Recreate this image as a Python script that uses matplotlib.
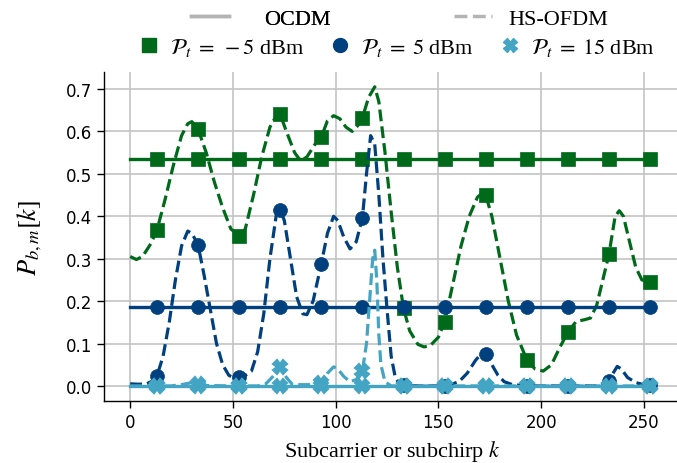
import matplotlib
matplotlib.use("Agg")
import matplotlib.pyplot as plt
from matplotlib.lines import Line2D

# ---------------- data ----------------
marker_k = [13, 33, 53, 73, 93, 113, 133, 153, 173, 193, 213, 233, 253]
ocdm_k = [0, 13, 33, 53, 73, 93, 113, 133, 153, 173, 193, 213, 233, 253, 255]

ocdm_m5 = 0.535
ocdm_5 = 0.185
ocdm_15 = 0.0

# HS-OFDM, Pt = -5 dBm
hs_m5_k = [0, 3, 6, 10, 13, 17, 21, 25, 28, 30, 33, 37, 41, 45, 49, 53, 56, 60, 64, 68,
           72, 73, 76, 80, 83, 86, 90, 93, 96, 99, 102, 105, 108, 111, 113, 116, 119, 121,
           124, 127, 130, 133, 136, 140, 143, 146, 150, 153, 157, 161, 165, 169, 172, 173,
           176, 180, 184, 188, 193, 197, 201, 205, 209, 213, 217, 221, 224, 227, 230, 233,
           236, 238, 240, 243, 246, 249, 253, 255]
hs_m5_v = [0.305, 0.298, 0.305, 0.335, 0.367, 0.44, 0.52, 0.59, 0.618, 0.623, 0.605, 0.55,
           0.48, 0.42, 0.37, 0.354, 0.37, 0.45, 0.54, 0.61, 0.645, 0.64, 0.60, 0.55, 0.53,
           0.54, 0.57, 0.587, 0.625, 0.637, 0.63, 0.61, 0.60, 0.615, 0.632, 0.68, 0.705,
           0.67, 0.55, 0.41, 0.28, 0.183, 0.13, 0.098, 0.092, 0.095, 0.115, 0.151, 0.24,
           0.33, 0.40, 0.445, 0.457, 0.45, 0.40, 0.30, 0.20, 0.12, 0.062, 0.04, 0.035, 0.05,
           0.09, 0.127, 0.152, 0.156, 0.16, 0.19, 0.25, 0.311, 0.40, 0.413, 0.40, 0.34, 0.28,
           0.25, 0.245, 0.24]
hs_m5_mark = [0.367, 0.605, 0.354, 0.64, 0.587, 0.632, 0.183, 0.151, 0.45, 0.062, 0.127,
              0.311, 0.245]

# HS-OFDM, Pt = 5 dBm
hs_5_k = [0, 4, 8, 11, 13, 16, 19, 22, 25, 28, 30, 33, 36, 39, 42, 45, 48, 51, 53, 56, 59,
          62, 65, 68, 71, 73, 75, 78, 81, 84, 86, 89, 93, 96, 99, 101, 104, 107, 110, 113,
          115, 117, 119, 121, 123, 125, 127, 129, 131, 133, 140, 150, 155, 160, 164, 168,
          171, 173, 176, 179, 182, 186, 193, 213, 226, 230, 233, 235, 237, 239, 242, 246,
          249, 253, 255]
hs_5_v = [0.005, 0.004, 0.005, 0.012, 0.023, 0.07, 0.15, 0.25, 0.33, 0.365, 0.36, 0.333,
          0.26, 0.18, 0.10, 0.05, 0.025, 0.018, 0.02, 0.025, 0.035, 0.08, 0.17, 0.30, 0.40,
          0.415, 0.39, 0.30, 0.21, 0.17, 0.168, 0.20, 0.288, 0.36, 0.40, 0.39, 0.35, 0.323,
          0.34, 0.396, 0.50, 0.59, 0.57, 0.45, 0.30, 0.18, 0.07, 0.02, 0.005, 0.002, 0.0,
          0.0, 0.002, 0.01, 0.03, 0.06, 0.077, 0.075, 0.05, 0.025, 0.01, 0.003, 0.0, 0.0,
          0.0, 0.005, 0.012, 0.03, 0.046, 0.04, 0.02, 0.008, 0.004, 0.003, 0.003]
hs_5_mark = [0.023, 0.333, 0.02, 0.415, 0.288, 0.396, 0.002, 0.0, 0.075, 0.0, 0.0, 0.012,
             0.003]

# HS-OFDM, Pt = 15 dBm
hs_15_k = [0, 20, 26, 30, 33, 37, 50, 62, 66, 70, 73, 76, 79, 88, 93, 96, 99, 101, 104, 107,
           110, 113, 115, 116.5, 118, 119, 120, 121, 122, 124, 127, 255]
hs_15_v = [0.0, 0.0, 0.004, 0.008, 0.005, 0.001, 0.0, 0.0, 0.005, 0.025, 0.045, 0.02, 0.003,
           0.003, 0.008, 0.03, 0.045, 0.04, 0.022, 0.01, 0.015, 0.035, 0.10, 0.20, 0.30,
           0.32, 0.25, 0.12, 0.05, 0.01, 0.0, 0.0]
hs_15_mark = [0.0, 0.005, 0.0, 0.045, 0.008, 0.035, 0.0, 0.0, 0.0, 0.0, 0.0, 0.0, 0.0]

legend_power = [r"$\mathcal{P}_t\;=\;-5$ dBm", r"$\mathcal{P}_t\;=\;5$ dBm",
                r"$\mathcal{P}_t\;=\;15$ dBm"]
legend_scheme = ["OCDM", "HS-OFDM"]
xticks = [0, 50, 100, 150, 200, 250]
yticks = [0.0, 0.1, 0.2, 0.3, 0.4, 0.5, 0.6, 0.7]

# ---------------- style ----------------
plt.rcParams["mathtext.fontset"] = "stix"
plt.rcParams["font.family"] = ["DejaVu Sans"]
SERIF = ["Liberation Serif", "DejaVu Serif"]

colors = ["#006a1b", "#00407f", "#44a4c4"]
markers = ["s", "o", "X"]

fig = plt.figure(figsize=(6.77, 4.64), dpi=100)
W, H = 677, 464
ax = fig.add_axes([104 / W, (H - 402) / H, 576.4 / W, 329 / H])

series = [
    (ocdm_m5, hs_m5_k, hs_m5_v, hs_m5_mark),
    (ocdm_5, hs_5_k, hs_5_v, hs_5_mark),
    (ocdm_15, hs_15_k, hs_15_v, hs_15_mark),
]
for i, (oc, hk, hv, hm) in enumerate(series):
    c = colors[i]
    m = markers[i]
    mew = 1.5 if m == "X" else 0.5
    ax.plot(hk, hv, ls="--", lw=2.3, color=c, zorder=3 + i)
    ax.plot(marker_k, hm, ls="none", marker=m, ms=10, color=c, mec=c, mew=mew,
            zorder=3 + i)
    ax.plot(ocdm_k, [oc] * len(ocdm_k), ls="-", lw=2.4, color=c, zorder=3 + i)
    ax.plot(marker_k, [oc] * len(marker_k), ls="none", marker=m, ms=10, color=c,
            mec=c, mew=mew, zorder=3 + i)

ax.set_xlim(-12.75, 267.75)
ax.set_ylim(-0.0355, 0.74)
ax.set_xticks(xticks)
ax.set_yticks(yticks)
ax.set_yticklabels([f"{v:.1f}" for v in yticks])
ax.tick_params(labelsize=12, length=5, width=1)
ax.grid(True, color="#c4c4c4", lw=1.2)
ax.set_axisbelow(True)
for s in ["top", "right"]:
    ax.spines[s].set_visible(False)
for s in ["left", "bottom"]:
    ax.spines[s].set_linewidth(1.0)

ax.set_xlabel(r"Subcarrier or subchirp $k$", fontsize=16, family=SERIF, labelpad=5)
ax.set_ylabel(r"$P_{b,m}[k]$", fontsize=19, labelpad=16)

# legends
gray = "#b4b4b4"
leg_a = fig.legend([Line2D([], [], color=gray, lw=2.5, ls="-")], legend_scheme[:1],
                   loc="center left", bbox_to_anchor=(191 / W, 1 - 19.5 / H),
                   frameon=False, prop={"family": SERIF, "size": 16},
                   handlelength=1.7, handletextpad=1.6, borderpad=0, borderaxespad=0)
leg_b = fig.legend([Line2D([], [], color=gray, lw=2.5, ls="--")], legend_scheme[1:],
                   loc="center left", bbox_to_anchor=(454 / W, 1 - 19.5 / H),
                   frameon=False, prop={"family": SERIF, "size": 16},
                   handlelength=1.7, handletextpad=0.75, borderpad=0, borderaxespad=0)
fig.add_artist(leg_a)
h2 = [Line2D([], [], ls="none", marker=markers[i], ms=10, color=colors[i], mec=colors[i])
      for i in range(3)]
leg2 = fig.legend(h2, legend_power, loc="center left", bbox_to_anchor=(138 / W, 1 - 48 / H),
                  ncol=3, frameon=False, prop={"family": SERIF, "size": 16},
                  handlelength=1.0, handletextpad=0.45, columnspacing=1.1,
                  borderpad=0, borderaxespad=0)

fig.savefig("out.png", dpi=100)
